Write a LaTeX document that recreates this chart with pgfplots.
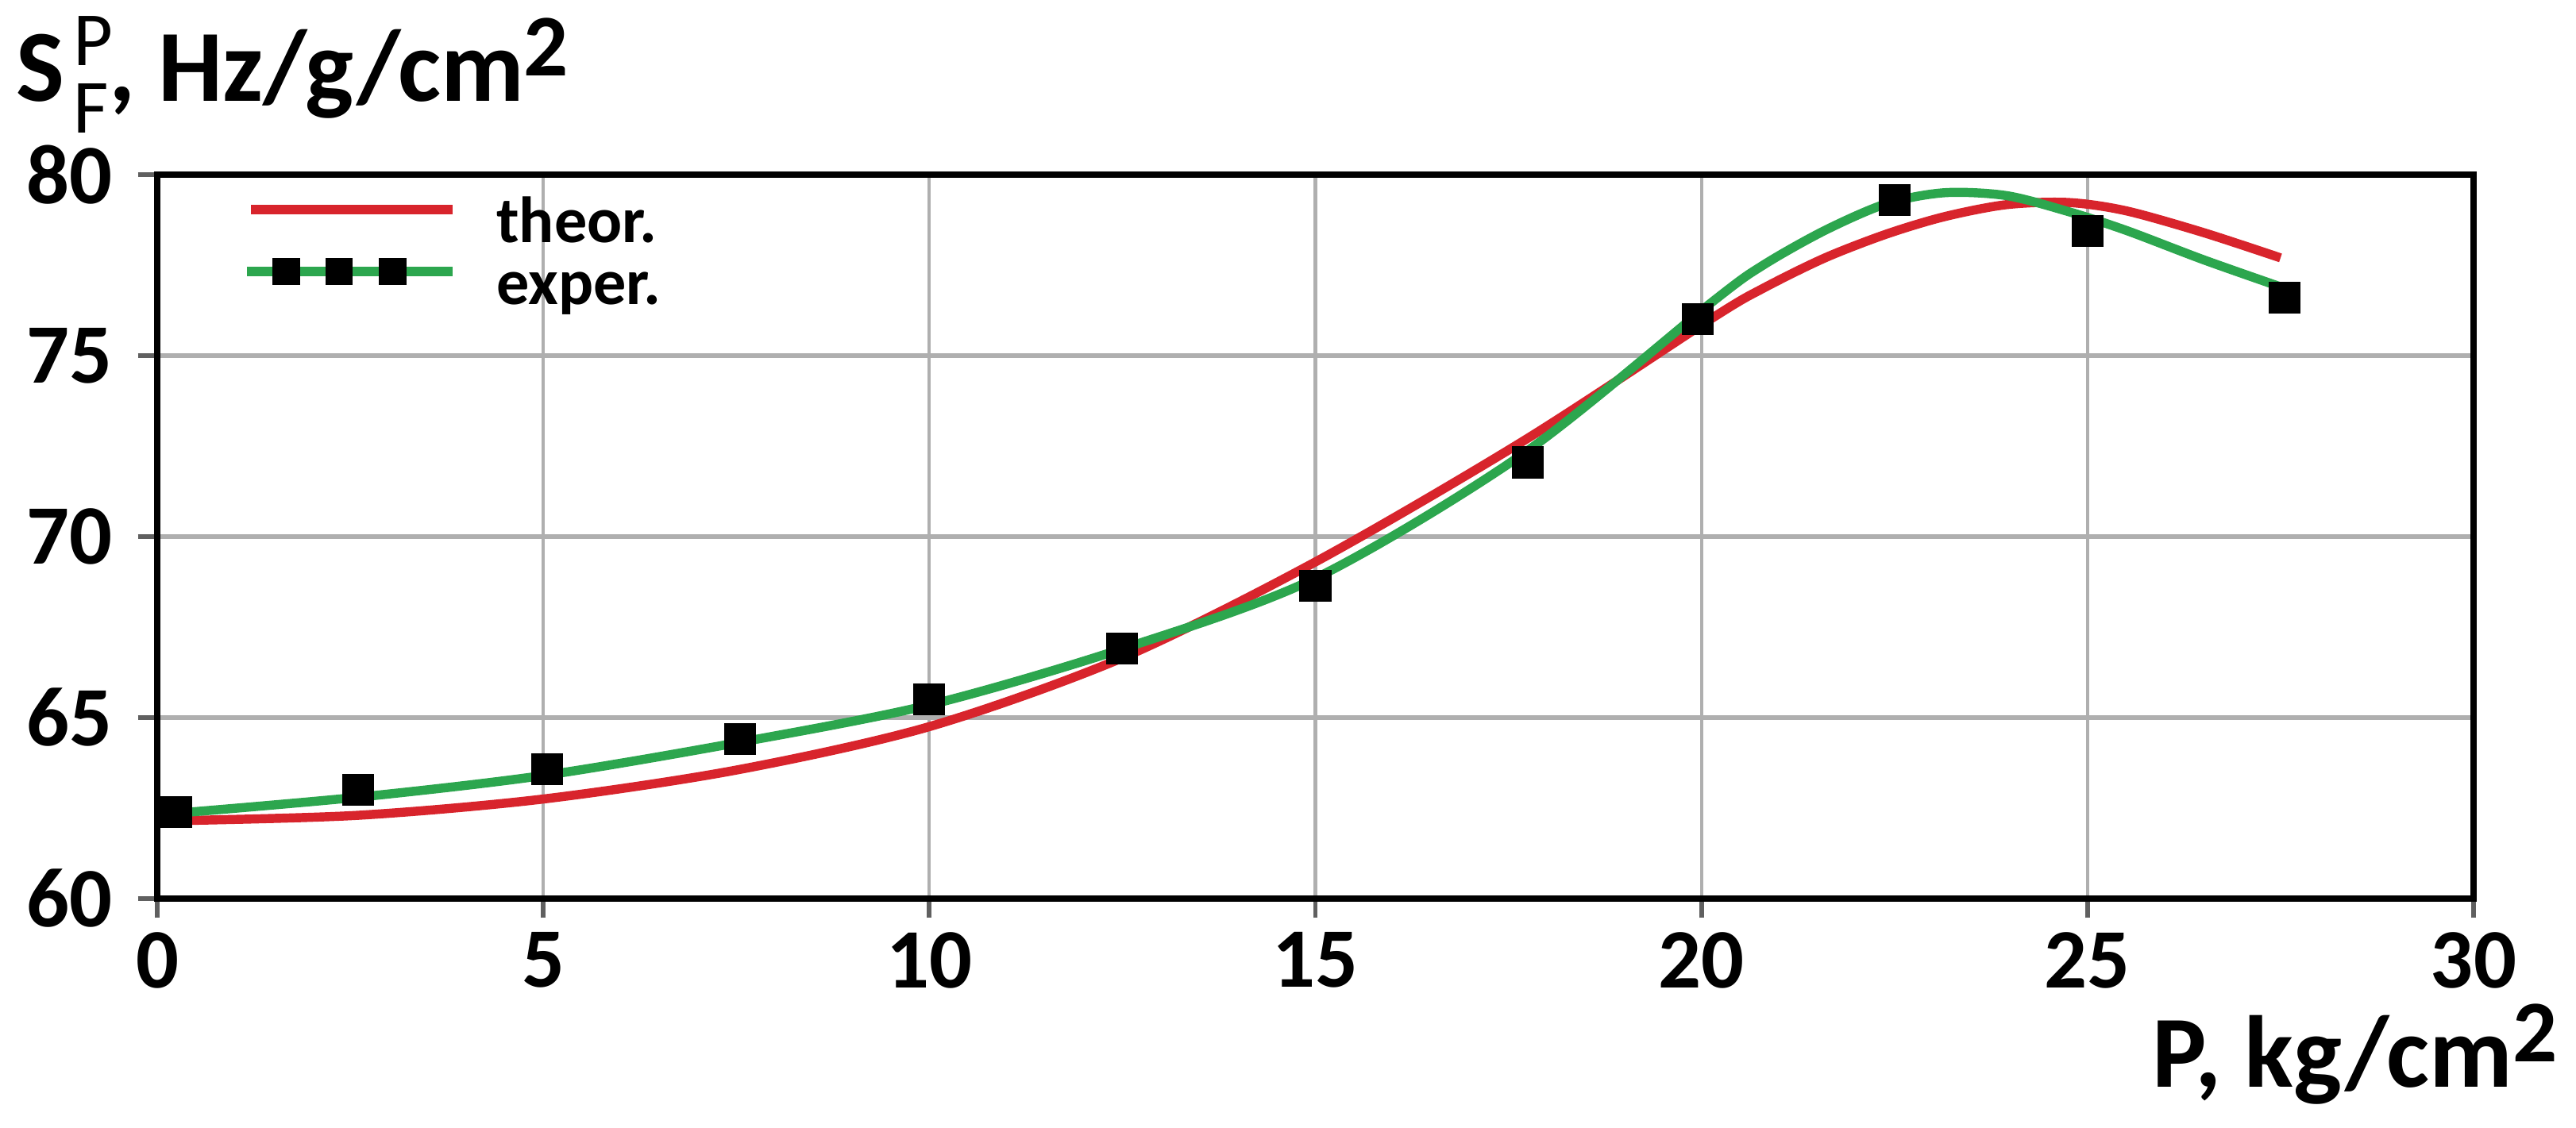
\documentclass[border=0pt]{standalone}
\usepackage{fontspec}
\setmainfont{Carlito}
\usepackage{pgfplots}
\pgfplotsset{compat=1.18}
\definecolor{theo}{RGB}{216,36,44}
\definecolor{expe}{RGB}{44,166,78}
\definecolor{gridc}{RGB}{175,175,175}

\begin{document}
\begin{tikzpicture}
% picture 453.6pt x 198.7pt, plot area from (0,0) to (407.9pt,127.53pt)
\useasboundingbox (-27.69pt,-40.41pt) rectangle (425.94pt,158.29pt);
\begin{axis}[
  scale only axis, width=407.9pt, height=127.53pt,
  at={(0,0)}, anchor=south west,
  xmin=0, xmax=30, ymin=60, ymax=80,
  xtick={0,5,...,30}, ytick={60,65,...,80},
  tick pos=left, tick align=outside, major tick length=3.4pt,
  tick style={gray!75!black, line width=0.8pt},
  grid=major,
  x grid style={gridc, line width=0.6pt},
  y grid style={gridc, line width=0.8pt},
  axis line style={black, line width=1.2pt},
  /pgf/number format/assume math mode=true,
  xticklabel style={font=\fontsize{14.9}{15}\selectfont\bfseries, inner sep=0pt, anchor=north, yshift=-2.3pt},
  yticklabel style={font=\fontsize{14.9}{15}\selectfont\bfseries, inner sep=0pt, anchor=east, xshift=-4.3pt},
  legend style={at={(axis description cs:0,1)}, anchor=north west, draw=none, fill=none,
    xshift=14.96pt, yshift=-3.9pt, inner sep=0pt, outer sep=0pt,
    font=\fontsize{11.5}{11.5}\selectfont\bfseries,
    nodes={inner sep=0pt, text height=8pt, text depth=2.8pt},
    /tikz/column sep=6.9pt, /tikz/row sep=0pt},
  legend cell align=left,
]
\addplot[theo, line width=1.6pt, smooth, tension=0.5,
  legend image code/.code={\draw[theo, line width=1.7pt] (0pt,3.2pt) -- (35.5pt,3.2pt);}]
  coordinates {
  (0.2,62.15) (2.6,62.3) (5.0,62.75) (7.5,63.55) (10.0,64.75) (12.5,66.65)
  (15.0,69.3) (17.7,72.65) (20.15,76.05) (20.8,76.86) (21.6,77.7) (22.4,78.36)
  (23.15,78.84) (23.95,79.17) (24.75,79.23) (25.5,79.0) (26.5,78.4) (27.5,77.7)};
\addlegendentry{theor.}
\addplot[expe, line width=1.6pt, smooth, tension=0.5,
  legend image code/.code={\draw[expe, line width=1.7pt] (-0.7pt,3.2pt) -- (35.5pt,3.2pt);
    \fill[black] (4.6pt,1.6pt) rectangle ++(3.2pt,3.2pt);
    \fill[black] (13.95pt,1.6pt) rectangle ++(3.2pt,3.2pt);
    \fill[black] (23.35pt,1.6pt) rectangle ++(3.2pt,3.2pt);}]
  coordinates {
  (0.2,62.35) (2.6,62.8) (5.0,63.4) (7.5,64.3) (10.0,65.35) (12.5,66.9)
  (15.0,68.85) (17.7,72.3) (20.15,76.5) (20.8,77.5) (21.6,78.46) (22.4,79.2)
  (23.15,79.5) (23.95,79.42) (24.75,78.98) (25.5,78.46) (26.5,77.65) (27.5,76.9)};
\addlegendentry{exper.}
\addplot[only marks, mark=square*, mark size=2.6pt, black, forget plot] coordinates {
  (0.25,62.4) (2.6,63.0) (5.05,63.57) (7.55,64.4) (10.0,65.5) (12.5,66.9)
  (15.0,68.65) (17.75,72.05) (19.95,76.0) (22.5,79.3) (25.0,78.45) (27.55,76.6)};
\end{axis}
\node[anchor=base west, inner sep=0pt, font=\fontsize{18}{18}\selectfont\bfseries]
  at (-25.0pt,140.4pt)
  {S\kern1.6pt\rlap{\raisebox{6.4pt}{\fontsize{13.5}{13.5}\selectfont\mdseries P}}\raisebox{-5.5pt}{\fontsize{13.5}{13.5}\selectfont\mdseries F},\ Hz/g/cm\raisebox{4.6pt}{\fontsize{15.5}{15.5}\selectfont 2}};
\node[anchor=base east, inner sep=0pt, font=\fontsize{18}{18}\selectfont\bfseries]
  at (422.85pt,-33.28pt)
  {P, kg/cm\raisebox{4.6pt}{\fontsize{15.5}{15.5}\selectfont 2}};
\end{tikzpicture}
\end{document}
